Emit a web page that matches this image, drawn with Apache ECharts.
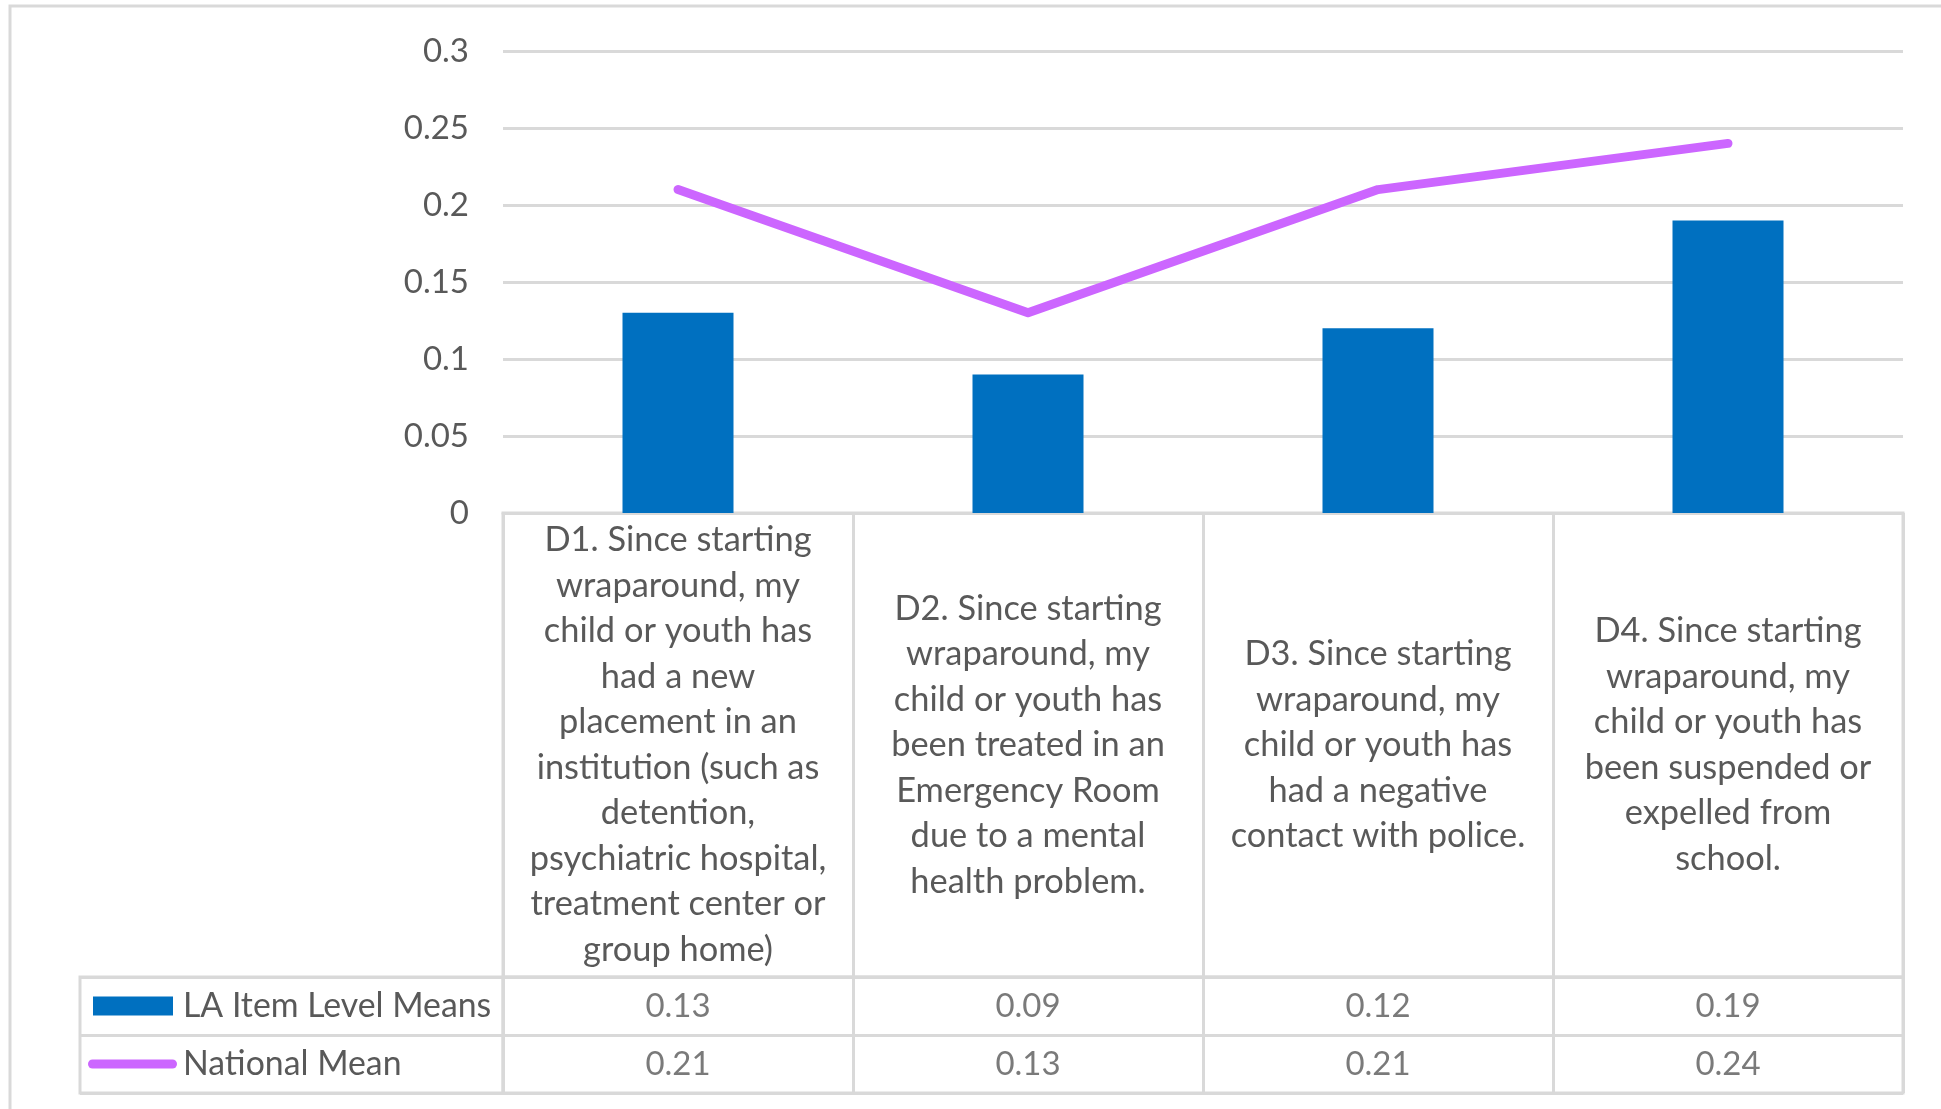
<!DOCTYPE html>
<html>
<head>
<meta charset="utf-8">
<script src="https://cdn.jsdelivr.net/npm/echarts@6/dist/echarts.min.js"></script>
<style>
html,body{margin:0;padding:0;background:#fff;}
#chart{width:1941px;height:1109px;}
</style>
</head>
<body>
<div id="chart"></div>
<script>
// ---- data ----
const categories = [
  "D1. Since starting\nwraparound, my\nchild or youth has\nhad a new\nplacement in an\ninstitution (such as\ndetention,\npsychiatric hospital,\ntreatment center or\ngroup home)",
  "D2. Since starting\nwraparound, my\nchild or youth has\nbeen treated in an\nEmergency Room\ndue to a mental\nhealth problem.",
  "D3. Since starting\nwraparound, my\nchild or youth has\nhad a negative\ncontact with police.",
  "D4. Since starting\nwraparound, my\nchild or youth has\nbeen suspended or\nexpelled from\nschool."
];
const seriesNames = ["LA Item Level Means", "National Mean"];
const laMeans = [0.13, 0.09, 0.12, 0.19];
const nationalMean = [0.21, 0.13, 0.21, 0.24];
const yMin = 0, yMax = 0.3, yStep = 0.05;

// ---- styles ----
const FONT = 'Lato';
const TXT = '#595959';
const LINE = '#d9d9d9';
const BAR_COLOR = '#0070C0';
const LINE_COLOR = '#CC66FF';

const chart = echarts.init(document.getElementById('chart'), null, {renderer: 'canvas'});
const tableData = (vals, r) => vals.map((v, i) => [i, r, v]);

const option = {
  animation: false,
  backgroundColor: '#ffffff',
  textStyle: {fontFamily: FONT},
  graphic: [{
    type: 'rect', silent: true, z: -10,
    shape: {x: 10, y: 6, width: 2400, height: 2400},
    style: {fill: 'none', stroke: LINE, lineWidth: 3}
  }],
  grid: [
    {left: 503, right: 38, top: 51, bottom: 596},
    {left: 503, right: 38, top: 513, height: 464, show: true, borderColor: LINE, borderWidth: 3, backgroundColor: 'transparent'},
    {left: 503, right: 38, top: 977, height: 116, show: true, borderColor: LINE, borderWidth: 3, backgroundColor: 'transparent'},
    {left: 80, width: 423, top: 977, height: 116, show: true, borderColor: LINE, borderWidth: 3, backgroundColor: 'transparent'}
  ],
  xAxis: [
    {
      gridIndex: 0, type: 'category', data: categories,
      axisLine: {show: true, lineStyle: {color: LINE, width: 3}},
      axisTick: {show: false},
      axisLabel: {
        interval: 0, margin: 232, verticalAlign: 'middle', align: 'center',
        fontFamily: FONT, fontSize: 34.4, lineHeight: 45.5, color: TXT
      },
      splitLine: {show: false}
    },
    {
      gridIndex: 1, type: 'category', data: categories,
      axisLine: {show: false}, axisTick: {show: false}, axisLabel: {show: false},
      splitLine: {show: true, interval: 0, lineStyle: {color: LINE, width: 3}}
    },
    {
      gridIndex: 2, type: 'category', data: categories,
      axisLine: {show: false}, axisTick: {show: false}, axisLabel: {show: false},
      splitLine: {show: true, interval: 0, lineStyle: {color: LINE, width: 3}}
    },
    {
      gridIndex: 3, type: 'category', data: [''],
      axisLine: {show: false}, axisTick: {show: false}, axisLabel: {show: false},
      splitLine: {show: false}
    }
  ],
  yAxis: [
    {
      gridIndex: 0, type: 'value', min: yMin, max: yMax, interval: yStep,
      axisLine: {show: false}, axisTick: {show: false},
      axisLabel: {margin: 34, fontFamily: FONT, fontSize: 33, color: TXT},
      splitLine: {show: true, lineStyle: {color: LINE, width: 3}}
    },
    {gridIndex: 1, type: 'value', show: false},
    {
      gridIndex: 2, type: 'category', data: seriesNames, inverse: true,
      axisLine: {show: false}, axisTick: {show: false},
      axisLabel: {
        margin: 415, align: 'left', verticalAlign: 'middle',
        formatter: function (v) {
          return v === seriesNames[0] ? '{sp|}{bar|}{t|' + v + '}' : '{ln|}{t2|' + v + '}';
        },
        rich: {
          sp: {width: 5, height: 19, verticalAlign: 'middle'},
          bar: {width: 80, height: 19, backgroundColor: BAR_COLOR, verticalAlign: 'middle'},
          ln: {width: 89, height: 9, borderRadius: 4.5, backgroundColor: LINE_COLOR, verticalAlign: 'middle'},
          t: {fontFamily: FONT, fontSize: 33.8, color: TXT, padding: [0, 0, 0, 10], verticalAlign: 'middle'},
          t2: {fontFamily: FONT, fontSize: 33.8, color: TXT, padding: [0, 0, 0, 6], verticalAlign: 'middle'}
        }
      },
      splitLine: {show: true, interval: 0, lineStyle: {color: LINE, width: 3}}
    },
    {
      gridIndex: 3, type: 'category', data: seriesNames, inverse: true,
      axisLine: {show: false}, axisTick: {show: false}, axisLabel: {show: false},
      splitLine: {show: true, interval: 0, lineStyle: {color: LINE, width: 3}}
    }
  ],
  series: [
    {
      name: seriesNames[0], type: 'bar', xAxisIndex: 0, yAxisIndex: 0,
      data: laMeans, barWidth: 111,
      itemStyle: {color: BAR_COLOR}, z: 2
    },
    {
      name: seriesNames[1], type: 'line', xAxisIndex: 0, yAxisIndex: 0,
      data: nationalMean, showSymbol: false, symbol: 'none',
      lineStyle: {color: LINE_COLOR, width: 9, cap: 'round', join: 'round'}, z: 3
    },
    {
      name: seriesNames[0] + ' table', type: 'scatter', xAxisIndex: 2, yAxisIndex: 2,
      data: tableData(laMeans, 0), symbolSize: 1, itemStyle: {color: 'transparent'},
      label: {show: true, position: 'inside', formatter: p => String(p.value[2]),
              fontFamily: FONT, fontSize: 33, color: TXT}
    },
    {
      name: seriesNames[1] + ' table', type: 'scatter', xAxisIndex: 2, yAxisIndex: 2,
      data: tableData(nationalMean, 1), symbolSize: 1, itemStyle: {color: 'transparent'},
      label: {show: true, position: 'inside', formatter: p => String(p.value[2]),
              fontFamily: FONT, fontSize: 33, color: TXT}
    }
  ]
};
chart.setOption(option);
</script>
</body>
</html>
